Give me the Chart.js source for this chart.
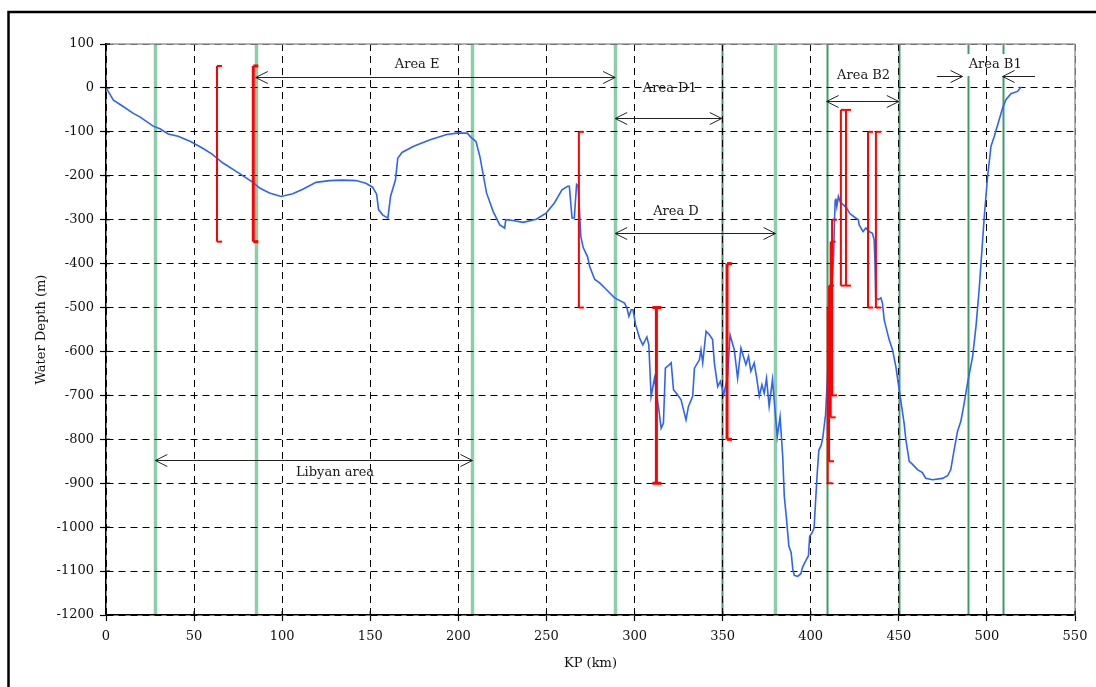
<!DOCTYPE html>
<html>
<head>
<meta charset="utf-8">
<script src="https://cdn.jsdelivr.net/npm/chart.js@4.4.1/dist/chart.umd.min.js"></script>
<style>
  html, body { margin: 0; padding: 0; background: #fff; }
  #wrap { width: 1096px; height: 687px; }
</style>
</head>
<body>
<div id="wrap"><canvas id="profile" width="1096" height="687"></canvas></div>
<script>
// ---------- data ----------
// seabed profile: KP (km) and water depth (m)
const profileKp = [
  0, 1, 4.2, 8.9, 15.5, 19.2, 26.8, 30.6, 35.3, 40.9, 48, 55.1, 60, 66.4, 75, 83.4, 87.2, 92.8, 99.4,
  106, 112, 119.2, 126.8, 134, 141.9, 147.5, 151.3, 153.6, 154.7, 157, 158.5, 160, 161.5, 164.3, 165.6,
  168, 174.6, 184, 193.4, 199, 205.1, 207, 210, 212.2, 216, 219.7, 223.5, 226.3, 226.9, 231, 236.7,
  244.2, 249.8, 254.5, 258.8, 262, 263, 264.5, 265.8, 267.1, 268, 269.5, 270.9, 273.3, 274.5, 277.4,
  280.2, 284, 288.7, 294.3, 295.7, 296.8, 298.1, 299.1, 300.6, 302.8, 304.7, 307, 308.1, 309.4, 311.3,
  313.8, 315.1, 316.4, 317.5, 319.8, 320.8, 322.1, 324.5, 326.4, 329.2, 330.6, 333, 334, 336.8, 337.7,
  338.7, 340.6, 342.5, 344.3, 345.3, 347.2, 348.7, 350.6, 352.8, 354.2, 356.6, 358.5, 360.4, 363.2,
  364.7, 366, 367.9, 369.2, 370.8, 372.3, 373.6, 374.9, 376.4, 378.3, 381, 382.6, 384.1, 385, 386.1,
  387.6, 388.9, 389.8, 390.7, 392.6, 394.4, 395.4, 397.2, 398.7, 399.4, 400.6, 401.9, 402.8, 403.7,
  404.6, 405.9, 406.9, 407.8, 408.4, 410, 411.2, 412.2, 413, 413.5, 413.9, 414.3, 414.8, 415.3, 415.7,
  417, 418, 420.3, 422.2, 425.1, 427, 427.5, 429.7, 431.3, 433.1, 435, 436, 436.5, 436.9, 438.4, 439.8,
  440.7, 441.7, 444.5, 446.4, 448.3, 450.2, 453, 454, 455.9, 457.8, 460.6, 463.4, 464.4, 465.3, 469.1,
  474.8, 477.7, 479.5, 481.4, 483.3, 485.2, 487.1, 489, 491.9, 493.8, 495.6, 497.2, 498.5, 500.4,
  501.7, 502.3, 504.2, 507, 508.9, 510.8, 513.6, 517.4, 519.3
];
const profileDepth = [
  0, -6, -28, -40, -58, -66, -87, -93, -105, -110, -122, -138, -150, -171, -193, -215, -228, -239, -247,
  -241, -230, -215, -211, -210, -211, -217, -226, -242, -277, -289, -293, -296, -247, -209, -160,
  -147, -133, -118, -106, -103, -103, -112, -122, -156, -239, -281, -312, -319, -300, -302, -306,
  -299, -285, -262, -232, -224, -224, -296, -296, -220, -224, -338, -364, -384, -406, -436,
  -444, -459, -478, -490, -501, -520, -505, -505, -539, -569, -585, -567, -585, -702, -661,
  -733, -775, -763, -638, -630, -626, -687, -699, -710, -756, -725, -702, -638, -619, -596,
  -626, -554, -562, -573, -626, -680, -668, -699, -657, -562, -596, -661, -592, -630,
  -611, -645, -626, -657, -702, -676, -695, -661, -725, -664, -794, -749, -839, -930, -975,
  -1043, -1058, -1095, -1110, -1112, -1106, -1091, -1076, -1065, -1021, -1014, -1002, -938, -877,
  -825, -814, -795, -764, -745, -620, -520, -440, -380, -300, -256, -252, -270, -258, -247,
  -262, -264, -273, -286, -295, -300, -312, -327, -319, -327, -331, -346, -400, -478, -482, -478,
  -490, -528, -573, -596, -634, -687, -763, -801, -850, -857, -869, -876, -883, -889, -892,
  -889, -883, -869, -824, -782, -759, -718, -672, -611, -543, -459, -368, -293, -201,
  -155, -133, -110, -72, -46, -27, -13, -8, 2
];

const xTickValues = [0, 50, 100, 150, 200, 250, 300, 350, 400, 450, 500, 550];
const yTickValues = [100, 0, -100, -200, -300, -400, -500, -600, -700, -800, -900, -1000, -1100, -1200];

// green area boundaries (KP) and whether the line is the wide pale kind
const areaLineKp = [28, 85, 208, 289, 349.5, 380, 409, 450, 489, 509];
const areaLineWide = [true, true, true, true, false, true, false, false, false, false];

// red range bars: KP, top depth, bottom depth, cap side
const barKp = [63, 83.6, 268.4, 312.4, 352.5, 409.6, 410.4, 411.3, 412.1, 417.1, 420, 432.5, 437];
const barTop = [50, 50, -100, -500, -400, -500, -450, -350, -300, -50, -50, -100, -100];
const barBottom = [-350, -350, -500, -900, -800, -900, -850, -750, -700, -450, -450, -500, -500];
const barCaps = ['r', 'r', 'r', 'both', 'r', 'r', 'r', 'r', 'r', 'r', 'r', 'r', 'r'];
const barThick = [false, true, false, true, true, false, false, false, false, false, false, false, false];

// area arrows
const arrowFrom = [85, 289, 289, 409, 471.6, 527.3, 28];
const arrowTo = [289, 349.5, 380, 450, 486.2, 508.9, 208];
const arrowDepth = [25, -68, -330, -30, 27, 27, -847];
const arrowBoth = [true, true, true, true, false, false, true];

// area names
const labelText = ['Area E', 'Area D1', 'Area D', 'Area B2', 'Area B1', 'Libyan area'];
const labelKp = [176.6, 320, 323.5, 430, 504.7, 130];
const labelDepth = [52, -2, -281, 27, 52, -875];

const FONT = "'DejaVu Serif', 'Liberation Serif', serif";

// ---------- helpers ----------
function seg(ctx, x1, y1, x2, y2) {
  ctx.beginPath();
  ctx.moveTo(x1, y1);
  ctx.lineTo(x2, y2);
  ctx.stroke();
}

function arrowHead(ctx, xTip, y, dir) {
  ctx.beginPath();
  ctx.moveTo(xTip - dir * 12, y - 6);
  ctx.lineTo(xTip, y);
  ctx.lineTo(xTip - dir * 12, y + 6);
  ctx.stroke();
}

// ---------- overlay plugin: frame, area lines, bars, arrows, text ----------
const overlay = {
  id: 'overlay',
  beforeDraw(chart) {
    const ctx = chart.ctx, a = chart.chartArea, xs = chart.scales.x, ys = chart.scales.y;
    ctx.save();
    ctx.fillStyle = '#fff';
    ctx.fillRect(0, 0, chart.width, chart.height);

    // outer frame (left + top only visible)
    ctx.strokeStyle = '#000';
    ctx.lineWidth = 2.5;
    ctx.beginPath();
    ctx.moveTo(8.5, chart.height);
    ctx.lineTo(8.5, 12);
    ctx.lineTo(chart.width, 12);
    ctx.stroke();

    // area boundaries
    areaLineKp.forEach((kp, i) => {
      const x = Math.round(xs.getPixelForValue(kp)) + 0.5;
      ctx.strokeStyle = areaLineWide[i] ? 'rgba(135,203,165,0.95)' : '#3f9b68';
      ctx.lineWidth = areaLineWide[i] ? 3.5 : 2;
      seg(ctx, x, a.top, x, a.bottom);
    });

    // white box behind the "Area B1" label breaks the green lines
    const i = labelText.indexOf('Area B1');
    ctx.font = '13px ' + FONT;
    const w = ctx.measureText(labelText[i]).width;
    const cx = xs.getPixelForValue(labelKp[i]), cy = ys.getPixelForValue(labelDepth[i]);
    ctx.fillStyle = '#fff';
    ctx.fillRect(cx - w / 2 - 3, cy - 11, w + 6, 22);
    ctx.restore();
  },
  afterDatasetsDraw(chart) {
    const ctx = chart.ctx, xs = chart.scales.x, ys = chart.scales.y;
    ctx.save();

    // red range bars
    ctx.strokeStyle = '#ff0000';
    barKp.forEach((kp, i) => {
      const x = xs.getPixelForValue(kp);
      const y1 = ys.getPixelForValue(barTop[i]);
      const y2 = ys.getPixelForValue(barBottom[i]);
      ctx.lineWidth = barThick[i] ? 3 : 2;
      seg(ctx, x, y1, x, y2);
      const left = barCaps[i] === 'both' ? x - 4 : x;
      seg(ctx, left, y1, x + 5, y1);
      seg(ctx, left, y2, x + 5, y2);
    });

    // arrows
    ctx.strokeStyle = '#222';
    ctx.lineWidth = 1;
    arrowFrom.forEach((kp, i) => {
      const x1 = xs.getPixelForValue(kp), x2 = xs.getPixelForValue(arrowTo[i]);
      const y = Math.round(ys.getPixelForValue(arrowDepth[i])) + 0.5;
      const dir = x2 > x1 ? 1 : -1;
      seg(ctx, x1, y, x2, y);
      arrowHead(ctx, x2, y, dir);
      if (arrowBoth[i]) arrowHead(ctx, x1, y, -dir);
    });

    // labels
    ctx.fillStyle = '#1a1a1a';
    ctx.font = '13px ' + FONT;
    ctx.textAlign = 'center';
    ctx.textBaseline = 'middle';
    labelText.forEach((t, i) => {
      ctx.fillText(t, xs.getPixelForValue(labelKp[i]), ys.getPixelForValue(labelDepth[i]));
    });
    ctx.restore();
  },
  afterDraw(chart) {
    const ctx = chart.ctx, a = chart.chartArea, xs = chart.scales.x, ys = chart.scales.y;
    ctx.save();
    ctx.strokeStyle = '#9a9a9a';
    ctx.lineWidth = 1.5;
    seg(ctx, a.left, a.top, a.right, a.top);
    seg(ctx, a.right, a.top, a.right, a.bottom);

    // tick marks also poke a little inside the axes
    ctx.strokeStyle = '#000';
    ctx.lineWidth = 1.2;
    xTickValues.forEach(v => {
      const x = xs.getPixelForValue(v);
      seg(ctx, x, a.bottom, x, a.bottom - 4);
    });
    yTickValues.forEach(v => {
      const y = ys.getPixelForValue(v);
      seg(ctx, a.left, y, a.left + 4, y);
    });
    ctx.restore();
  }
};

// ---------- chart ----------
Chart.defaults.font.family = FONT;
Chart.defaults.font.size = 13;
Chart.defaults.color = '#111';

const profilePoints = profileKp.map((kp, i) => ({ x: kp, y: profileDepth[i] }));

new Chart(document.getElementById('profile'), {
  type: 'line',
  data: {
    datasets: [{
      label: 'Water depth',
      data: profilePoints,
      borderColor: '#2f63f2',
      borderWidth: 1.6,
      pointRadius: 0,
      tension: 0,
      fill: false
    }]
  },
  options: {
    responsive: false,
    animation: false,
    events: [],
    layout: { padding: { left: 0, top: 44, right: 21, bottom: 0 } },
    plugins: { legend: { display: false }, tooltip: { enabled: false } },
    scales: {
      x: {
        type: 'linear',
        min: 0,
        max: 550,
        afterBuildTicks: s => { s.ticks = xTickValues.map(v => ({ value: v })); },
        afterFit: s => { s.height = 72; },
        grid: { color: '#000', lineWidth: 1, tickLength: 6, tickColor: '#000', tickWidth: 1.2 },
        border: { display: true, color: '#000', width: 1.5, dash: [7, 5] },
        ticks: { padding: 8, maxRotation: 0, autoSkip: false, callback: v => String(v) },
        title: { display: true, text: 'KP (km)', padding: { top: 0, bottom: 16 } }
      },
      y: {
        type: 'linear',
        min: -1200,
        max: 100,
        afterBuildTicks: s => { s.ticks = yTickValues.slice().reverse().map(v => ({ value: v })); },
        afterFit: s => { s.width = 106; },
        grid: { color: '#000', lineWidth: 1, tickLength: 6, tickColor: '#000', tickWidth: 1.2 },
        border: { display: true, color: '#000', width: 1.5, dash: [7, 5] },
        ticks: { padding: 6, autoSkip: false, callback: v => String(v) },
        title: { display: true, text: 'Water Depth (m)', padding: { top: 34, bottom: 0 } }
      }
    }
  },
  plugins: [overlay]
});
</script>
</body>
</html>
